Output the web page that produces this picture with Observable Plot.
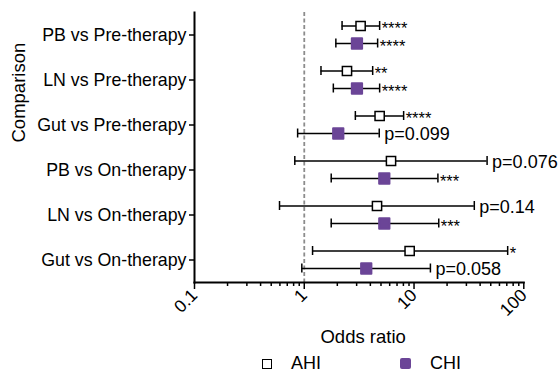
<!DOCTYPE html>
<html><head><meta charset="utf-8">
<script src="https://cdn.jsdelivr.net/npm/d3@7"></script>
<script src="https://cdn.jsdelivr.net/npm/@observablehq/plot@0.6"></script>
<style>
body{margin:0;background:#fff;font-family:"Liberation Sans",Arial,sans-serif}
#wrap{position:relative;width:558px;height:373px;overflow:hidden}
.lg{position:absolute;top:352px;font-size:18px;line-height:22px;color:#000}
.sq{position:absolute}
</style></head><body>
<div id="wrap"></div>
<script>
const comparisons = ["PB vs Pre-therapy","LN vs Pre-therapy","Gut vs Pre-therapy","PB vs On-therapy","LN vs On-therapy","Gut vs On-therapy"];
const groups = ["AHI","CHI"];
const ahiOR   = [3.26, 2.45, 4.86, 6.17, 4.6, 9.12];
const ahiLow  = [2.21, 1.42, 2.92, 0.82, 0.595, 1.19];
const ahiHigh = [4.86, 4.2, 8.04, 46.3, 35.4, 71.3];
const ahiLabel = ["****","**","****","p=0.076","p=0.14","*"];
const chiOR   = [3.02, 3.02, 2.04, 5.36, 5.36, 3.67];
const chiLow  = [1.94, 1.84, 0.87, 1.76, 1.76, 0.95];
const chiHigh = [4.66, 4.86, 4.82, 16.5, 16.8, 14.1];
const chiLabel = ["****","****","p=0.099","***","***","p=0.058"];
const xMajor = [0.1, 1, 10, 100];
const xMinor = [0.2,0.3,0.4,0.5,0.6,0.7,0.8,0.9,2,3,4,5,6,7,8,9,20,30,40,50,60,70,80,90];

const purple = "#6b4597";
const mk = (or, lo, hi, lab) => comparisons.map((c, i) => ({comp: c, or: or[i], lo: lo[i], hi: hi[i], label: lab[i]}));
const ahi = mk(ahiOR, ahiLow, ahiHigh, ahiLabel);
const chi = mk(chiOR, chiLow, chiHigh, chiLabel);

function groupMarks(rows, dy, dotOpts) {
  const stars = rows.filter(d => d.label.startsWith("*"));
  const ps = rows.filter(d => !d.label.startsWith("*"));
  return [
    Plot.ruleY(rows, {x1: "lo", x2: "hi", y: "comp", dy, stroke: "#000", strokeWidth: 1.5}),
    Plot.tickX(rows, {x: "lo", y: "comp", dy, insetTop: 18, insetBottom: 18, stroke: "#000", strokeWidth: 1.5}),
    Plot.tickX(rows, {x: "hi", y: "comp", dy, insetTop: 18, insetBottom: 18, stroke: "#000", strokeWidth: 1.5}),
    Plot.dot(rows, {x: "or", y: "comp", dy, symbol: "square", ...dotOpts}),
    Plot.text(stars, {x: "hi", y: "comp", text: "label", dy: dy + 3, dx: 2, textAnchor: "start", fontSize: 16.5}),
    Plot.text(ps, {x: "hi", y: "comp", text: "label", dy: dy + 1, dx: 5, textAnchor: "start", fontSize: 18, letterSpacing: 0.3})
  ];
}

const chart = Plot.plot({
  width: 558,
  height: 373,
  marginLeft: 194,
  marginRight: 34.7,
  marginTop: 12,
  marginBottom: 91,
  style: {fontFamily: "Liberation Sans, Arial, sans-serif", background: "#fff", color: "#000"},
  x: {type: "log", domain: [0.1, 100]},
  y: {domain: comparisons, padding: 0},
  marks: [
    Plot.ruleX([1], {stroke: "#8c8c8c", strokeWidth: 1.8, strokeDasharray: "4,2.5"}),
    Plot.axisY({tickSize: 5, tickPadding: 3, fontSize: 17.8, label: null, strokeWidth: 1.5}),
    Plot.axisX({ticks: xMajor, tickFormat: d => String(d), tickRotate: -45, tickSize: 7, tickPadding: 3, fontSize: 17.5, label: null, strokeWidth: 1.5}),
    Plot.axisX({ticks: xMinor, tickFormat: () => "", tickSize: 4, label: null, strokeWidth: 1.5}),
    Plot.frame({anchor: "left", strokeWidth: 2}),
    Plot.frame({anchor: "bottom", strokeWidth: 2}),
    ...groupMarks(ahi, -9, {r: 5.2, fill: "#fff", stroke: "#000", strokeWidth: 1.5}),
    ...groupMarks(chi, 8.5, {r: 5.8, fill: purple, stroke: purple, strokeWidth: 2, strokeLinejoin: "round"}),
    Plot.text(["Comparison"], {frameAnchor: "left", dx: -175, dy: -5, rotate: -90, fontSize: 18.5}),
    Plot.text(["Odds ratio"], {frameAnchor: "bottom", dx: 4, dy: 60, fontSize: 18.5})
  ]
});
const wrap = document.getElementById("wrap");
wrap.appendChild(chart);

const legendItems = [
  {name: groups[0], left: 262, box: 8, style: "border:1.5px solid #000;background:#fff", text: 291},
  {name: groups[1], left: 400, box: 11, style: `background:${purple};border-radius:2px`, text: 430}
];
for (const it of legendItems) {
  const s = document.createElement("div");
  s.className = "sq";
  s.style.cssText = `left:${it.left}px;top:${363 - it.box/2}px;width:${it.box}px;height:${it.box}px;${it.style}`;
  wrap.appendChild(s);
  const t = document.createElement("div");
  t.className = "lg";
  t.style.left = it.text + "px";
  t.textContent = it.name;
  wrap.appendChild(t);
}
</script>
</body></html>
